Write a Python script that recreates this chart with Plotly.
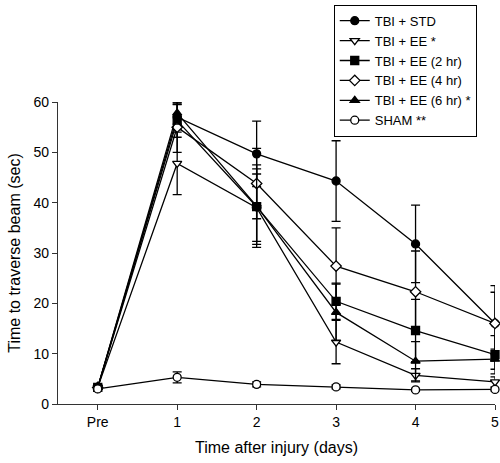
import plotly.graph_objects as go

days = ['Pre', '1', '2', '3', '4', '5']
day_idx = [0, 1, 2, 3, 4, 5]

std = [3.3, 57.0, 49.7, 44.3, 31.8, 16.0]
std_err = [0.4, 2.5, 6.5, 8.0, 7.7, 7.5]
ee = [3.3, 47.8, 39.0, 12.3, 5.7, 4.4]
ee_err = [0.4, 6.2, 6.7, 4.3, 1.3, 1.0]
ee2 = [3.3, 56.3, 39.2, 20.4, 14.6, 9.8]
ee2_err = [0.4, 3.3, 7.5, 3.6, 6.2, 3.8]
ee4 = [3.3, 55.0, 43.8, 27.4, 22.3, 16.0]
ee4_err = [0.4, 5.0, 7.0, 7.6, 8.1, 6.2]
ee6 = [3.3, 57.8, 39.3, 18.2, 8.5, 8.9]
ee6_err = [0.4, 2.2, 8.2, 5.6, 3.9, 2.0]
sham = [3.0, 5.3, 3.9, 3.4, 2.8, 2.9]
sham_err = [0.4, 1.1, 0.5, 0.4, 0.3, 0.3]

series = [
    ('TBI + STD', std, std_err, 'circle', 'black'),
    ('TBI + EE *', ee, ee_err, 'triangle-down', 'white'),
    ('TBI + EE (2 hr)', ee2, ee2_err, 'square', 'black'),
    ('TBI + EE (4 hr)', ee4, ee4_err, 'diamond', 'white'),
    ('TBI + EE (6 hr) *', ee6, ee6_err, 'triangle-up', 'black'),
    ('SHAM **', sham, sham_err, 'circle', 'white'),
]

fig = go.Figure()
for name, vals, errs, sym, fill in series:
    fig.add_trace(go.Scatter(
        x=day_idx, y=vals, name=name, mode='lines+markers',
        line=dict(color='black', width=1.3),
        marker=dict(symbol=sym, size=8, color=fill, line=dict(color='black', width=1.3)),
        error_y=dict(type='data', array=errs, color='black', thickness=1.3, width=4.5),
        cliponaxis=False,
    ))

fig.update_layout(
    width=500, height=463,
    margin=dict(l=58, r=5, t=100, b=59),
    plot_bgcolor='white', paper_bgcolor='white',
    font=dict(family='Liberation Sans, Arial', size=14, color='black'),
    showlegend=True,
    legend=dict(
        x=0.631, y=1.322, xanchor='left', yanchor='top',
        bordercolor='black', borderwidth=1, bgcolor='white',
        font=dict(size=13), itemwidth=30, tracegroupgap=0,
    ),
    xaxis=dict(
        range=[-0.5, 5.0], tickvals=day_idx, ticktext=days,
        showline=True, linecolor='#333', linewidth=1.3,
        ticks='outside', ticklen=5, tickcolor='#333',
        showgrid=False, zeroline=False, automargin=False,
        title=dict(text='Time after injury (days)', font=dict(size=16), standoff=12),
    ),
    yaxis=dict(
        range=[0, 60], dtick=10,
        showline=True, linecolor='#333', linewidth=1.3,
        ticks='outside', ticklen=5, tickcolor='#333',
        showgrid=False, zeroline=False, automargin=False,
        title=dict(text='Time to traverse beam (sec)', font=dict(size=16), standoff=8),
    ),
)

# page body has a default margin; drop it so the figure sits at the window corner
fig.write_html('out.html', config={'displayModeBar': False},
               post_script="document.body.style.margin='0';")
